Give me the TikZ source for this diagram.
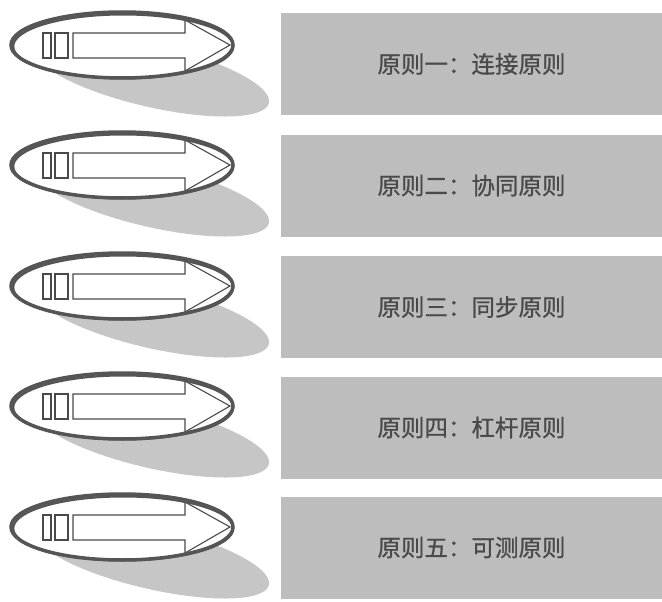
\documentclass[tikz,border=0pt]{standalone}
\usepackage{fontspec}
\newfontfamily\cjk[FakeBold=0.8]{Noto Sans CJK SC}
\usetikzlibrary{shapes.geometric}
\definecolor{boxgray}{HTML}{BDBDBD}
\definecolor{shadowgray}{HTML}{C6C6C6}
\definecolor{ringgray}{HTML}{555555}
\definecolor{arrowgray}{HTML}{4A4A4A}
\definecolor{txtgray}{HTML}{4A4A4A}
\begin{document}
\begin{tikzpicture}[x=1pt,y=-1pt,
 panel/.style={fill=boxgray, minimum width=381pt, minimum height=102pt, inner sep=0pt, font=\cjk\fontsize{23.5}{28}\selectfont, text=txtgray},
 ring/.style={ellipse, draw=ringgray, line width=3.5pt, minimum width=222pt, minimum height=66pt, inner sep=0pt},
 arrowline/.style={draw=arrowgray, line width=1.1pt, fill=white, line join=miter}]
\useasboundingbox (0,0) rectangle (662,602);
\foreach \i/\ey/\by/\t in {1/45/64/原则一：连接原则, 2/165/185.5/原则二：协同原则, 3/286/307/原则三：同步原则, 4/406/427.5/原则四：杠杆原则, 5/527/547.5/原则五：可测原则}{
  \node[panel] (p\i) at (471.5,\by) {\t};
  \fill[shadowgray, rotate around={-13:(152,\ey+31)}] (152,\ey+31) ellipse [x radius=120pt, y radius=31pt];
  \fill[white] (122,\ey) ellipse [x radius=111pt, y radius=33pt];
  \begin{scope}[shift={(0,\ey)}]
   \draw[arrowline] (43,-12) rectangle (51,13);
   \draw[arrowline] (55,-12) rectangle (68,13);
   \draw[arrowline] (73,-12) -- (185,-12) -- (185,-25) -- (230,0) -- (185,26) -- (185,13) -- (73,13) -- cycle;
  \end{scope}
  \node[ring] (e\i) at (122,\ey) {};
  \draw[ringgray, line width=2.2pt] (123.2,\ey+1.4) ellipse [x radius=110pt, y radius=32pt];
}
\end{tikzpicture}
\end{document}
